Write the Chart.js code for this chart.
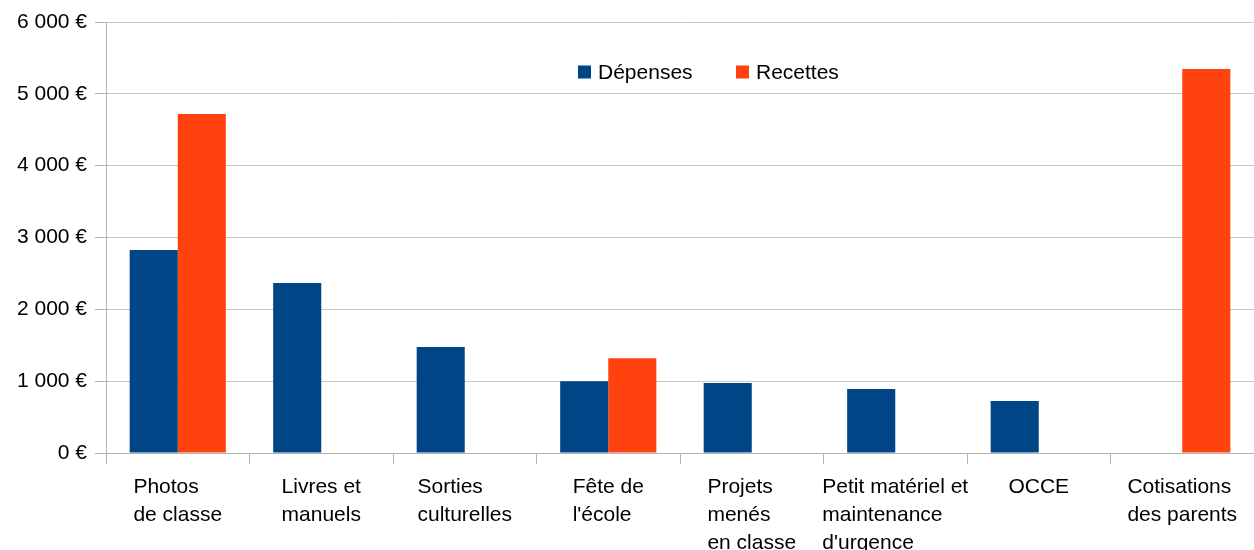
<!DOCTYPE html>
<html>
<head>
<meta charset="utf-8">
<script src="https://cdn.jsdelivr.net/npm/chart.js@4"></script>
<style>
  html, body { margin: 0; padding: 0; background: #fff; }
  #wrap { width: 1254px; height: 550px; position: relative; }
</style>
</head>
<body>
<div id="wrap"><canvas id="c"></canvas></div>
<script>
const categories = [
  ["Photos", "de classe"],
  ["Livres et", "manuels"],
  ["Sorties", "culturelles"],
  ["Fête de", "l'école"],
  ["Projets", "menés", "en classe"],
  ["Petit matériel et", "maintenance", "d'urgence"],
  ["OCCE"],
  ["Cotisations", "des parents"]
];
const depenses = [2825, 2365, 1475, 1000, 975, 890, 725, null];
const recettes = [4720, null, null, 1320, null, null, null, 5345];
const seriesNames = ["Dépenses", "Recettes"];
const seriesColors = ["#004586", "#ff420e"];
const yTicks = [0, 1000, 2000, 3000, 4000, 5000, 6000];

const FONT = "'Liberation Sans', Arial, sans-serif";
const FS = 21;

function fmtEuro(v) {
  const s = String(Math.round(v));
  return s.replace(/\B(?=(\d{3})+(?!\d))/g, " ") + " €";
}

const xLabelsPlugin = {
  id: 'xLabels',
  afterDraw(chart) {
    const ctx = chart.ctx;
    const xs = chart.scales.x;
    const top = chart.chartArea.bottom;
    ctx.save();
    ctx.font = FS + "px " + FONT;
    ctx.fillStyle = "#000";
    ctx.textAlign = "left";
    ctx.textBaseline = "alphabetic";
    categories.forEach((lines, i) => {
      const cx = xs.getPixelForValue(i);
      let w = 0;
      lines.forEach(l => { w = Math.max(w, ctx.measureText(l).width); });
      const x0 = cx - w / 2;
      lines.forEach((l, j) => {
        ctx.fillText(l, x0, top + 40 + j * 28);
      });
    });
    ctx.restore();
  }
};

const legendPlugin = {
  id: 'customLegend',
  afterDraw(chart) {
    const ctx = chart.ctx;
    ctx.save();
    ctx.font = FS + "px " + FONT;
    ctx.textBaseline = "middle";
    ctx.textAlign = "left";
    const xs = [578, 736];
    const y = 72;
    chart.data.datasets.forEach((ds, i) => {
      ctx.fillStyle = ds.backgroundColor;
      ctx.fillRect(xs[i], y - 6.5, 13, 13);
      ctx.fillStyle = "#000";
      ctx.fillText(ds.label, xs[i] + 20, y + 1);
    });
    ctx.restore();
  }
};

new Chart(document.getElementById('c'), {
  type: 'bar',
  data: {
    labels: categories.map(c => c.join(" ")),
    datasets: [
      { label: seriesNames[0], data: depenses, backgroundColor: seriesColors[0], borderWidth: 0 },
      { label: seriesNames[1], data: recettes, backgroundColor: seriesColors[1], borderWidth: 0 }
    ]
  },
  options: {
    responsive: true,
    maintainAspectRatio: false,
    animation: false,
    layout: { padding: { top: 22, right: 0, bottom: 86, left: 0 } },
    plugins: {
      legend: { display: false },
      tooltip: { enabled: false }
    },
    datasets: {
      bar: { barPercentage: 1.0, categoryPercentage: 0.67 }
    },
    scales: {
      x: {
        offset: true,
        grid: {
          offset: true,
          drawOnChartArea: false,
          drawTicks: true,
          tickLength: 11,
          color: '#b3b3b3',
          lineWidth: 1
        },
        border: { display: true, color: '#b3b3b3', width: 1 },
        ticks: { display: false }
      },
      y: {
        min: 0,
        max: 6000,
        afterFit(scale) { scale.width = 106; },
        afterBuildTicks(scale) { scale.ticks = yTicks.map(v => ({ value: v })); },
        grid: {
          color: '#c8c8c8',
          lineWidth: 1,
          drawTicks: true,
          tickLength: 11,
          tickColor: '#b3b3b3'
        },
        border: { display: true, color: '#b3b3b3', width: 1 },
        ticks: {
          padding: 8,
          color: '#000',
          font: { family: FONT, size: FS },
          callback: v => fmtEuro(v)
        }
      }
    }
  },
  plugins: [xLabelsPlugin, legendPlugin]
});
</script>
</body>
</html>
